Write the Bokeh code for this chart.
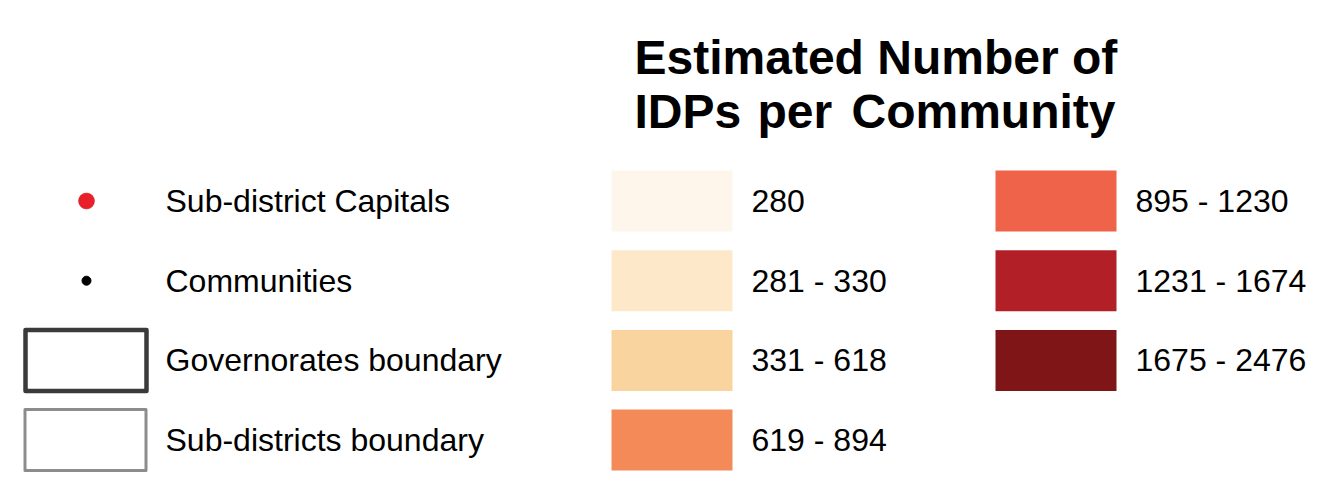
from bokeh.plotting import figure
from bokeh.models import Range1d, ColumnDataSource
from bokeh.core.properties import value
from bokeh.embed import file_html
from bokeh.resources import INLINE

# ---- data ----
title_line1 = "Estimated Number of"
title_line2_words = ["IDPs", "per", "Community"]

class_labels = ["280", "281 - 330", "331 - 618", "619 - 894",
                "895 - 1230", "1231 - 1674", "1675 - 2476"]
class_colors = ["#FEF6EA", "#FDE8C9", "#FAD49E", "#F48A58",
                "#EF634A", "#B21F27", "#801517"]

symbol_labels = ["Sub-district Capitals", "Communities",
                 "Governorates boundary", "Sub-districts boundary"]

FONT = value("Liberation Sans")

# ---- figure with 1 data unit == 1 screen pixel ----
W, H = 1327, 479
p = figure(width=W, height=H, output_backend="svg", toolbar_location=None,
           x_range=Range1d(0, W), y_range=Range1d(H, 0),
           min_border=0)
p.axis.visible = False
p.grid.visible = False
p.outline_line_color = None
p.background_fill_color = "white"
p.border_fill_color = "white"

# ---- title ----
p.text(x=[634], y=[57], text=[title_line1], text_font=FONT,
       text_font_size="48px", text_font_style="bold", text_color="black",
       text_align="left", text_baseline="middle")
p.text(x=[634, 757, 851], y=[111, 111, 111], text=title_line2_words,
       text_font=FONT, text_font_size="48px", text_font_style="bold",
       text_color="black", text_align="left", text_baseline="middle")

# ---- class swatches ----
row_top0, row_step, sw_h, sw_w = 170, 79.7, 61, 121
col_left = [611, 995]
per_col = 4
xs, ys, lx = [], [], []
for i in range(len(class_labels)):
    c, r = divmod(i, per_col)
    xs.append(col_left[c] + sw_w / 2)
    ys.append(row_top0 + r * row_step + sw_h / 2)
    lx.append(col_left[c] + sw_w + 19)
src = ColumnDataSource(dict(x=xs, y=ys, lx=lx, color=class_colors, label=class_labels))
p.rect(x="x", y="y", width=sw_w, height=sw_h, fill_color="color",
       line_color=None, source=src)
p.text(x="lx", y="y", text="label", source=src, text_font=FONT,
       text_font_size="32px", text_color="black",
       text_align="left", text_baseline="middle")

# ---- symbol legend ----
sym_y = [row_top0 + r * row_step + sw_h / 2 for r in range(len(symbol_labels))]
p.scatter(x=[86], y=[sym_y[0]], size=16, marker="circle",
          fill_color="#E8202A", line_color="#C8242A", line_width=0.5)
p.scatter(x=[86], y=[sym_y[1]], size=9, marker="circle",
          fill_color="black", line_color="black")
p.rect(x=[85.5], y=[sym_y[2]], width=121, height=61, fill_color=None,
       line_color="#3A3A3A", line_width=4.5, line_join="round")
p.rect(x=[85], y=[sym_y[3]], width=121, height=61, fill_color=None,
       line_color="#8C8C8C", line_width=3, line_join="round")
p.text(x=[165] * len(symbol_labels), y=sym_y, text=symbol_labels,
       text_font=FONT, text_font_size="32px", text_color="black",
       text_align="left", text_baseline="middle")

open("out.html", "w").write(file_html(p, INLINE))
